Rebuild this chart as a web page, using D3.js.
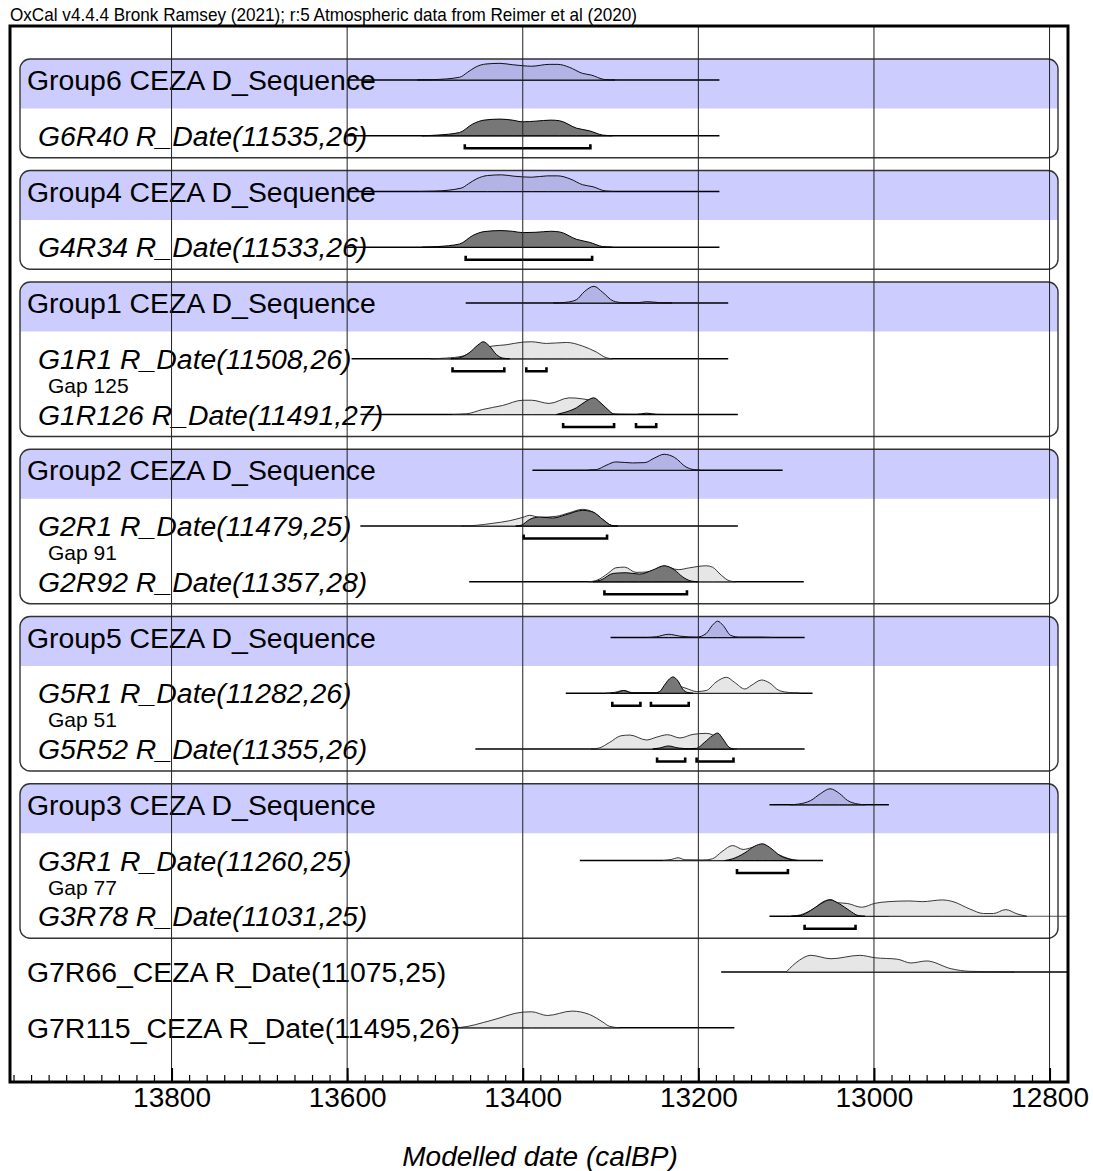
<!DOCTYPE html>
<html>
<head>
<meta charset="utf-8">
<script src="https://cdn.jsdelivr.net/npm/d3@7"></script>
<style>
  body { margin: 0; background: #fff; }
  svg { display: block; }
  text { font-family: "Liberation Sans", Arial, Helvetica, sans-serif; }
</style>
</head>
<body>
<svg id="chart" width="1093" height="1171"></svg>
<script>
// ---- Plot rows (top to bottom) ----
const rowLabels = [
  "Group6 CEZA D_Sequence", "G6R40 R_Date(11535,26)",
  "Group4 CEZA D_Sequence", "G4R34 R_Date(11533,26)",
  "Group1 CEZA D_Sequence", "G1R1 R_Date(11508,26)", "G1R126 R_Date(11491,27)",
  "Group2 CEZA D_Sequence", "G2R1 R_Date(11479,25)", "G2R92 R_Date(11357,28)",
  "Group5 CEZA D_Sequence", "G5R1 R_Date(11282,26)", "G5R52 R_Date(11355,26)",
  "Group3 CEZA D_Sequence", "G3R1 R_Date(11260,25)", "G3R78 R_Date(11031,25)",
  "G7R66_CEZA R_Date(11075,25)", "G7R115_CEZA R_Date(11495,26)"
];
const headerRows = [0, 2, 4, 7, 10, 13];
const groupLastRows = [1, 3, 6, 9, 12, 15];
const plainRows = [16, 17];
const gapLabels = [
  { row: 5, text: "Gap 125" }, { row: 8, text: "Gap 91" },
  { row: 11, text: "Gap 51" }, { row: 14, text: "Gap 77" }
];

// Calculated range of each row (calBP, older first)
const rowRanges = [
  [13600, 13176], [13600, 13176], [13600, 13176], [13600, 13176],
  [13465, 13166], [13595, 13166], [13585, 13155],
  [13389, 13104], [13585, 13155], [13461, 13080],
  [13300, 13079], [13351, 13070], [13454, 13079],
  [13119, 12983], [13335, 13058], [13119, 12983],
  [13174, 12779], [13477, 13159]
];
const extraRanges = [{ row: 15, range: [12983, 12779] }];

// 95.4% highest posterior density ranges
const hpdRanges = {
  1: [[13466, 13323]], 3: [[13465, 13321]],
  5: [[13480, 13421], [13396, 13373]], 6: [[13354, 13296], [13271, 13248]],
  8: [[13399, 13304]], 9: [[13307, 13213]],
  11: [[13298, 13266], [13254, 13211]], 12: [[13247, 13215], [13202, 13160]],
  14: [[13156, 13098]], 15: [[13079, 13021]]
};

// ---- Probability distributions: [calBP, relative probability] ----
const g6Seq = [[13520,0],[13502,0.02],[13472,0.16],[13463,0.45],[13453,0.78],[13442,0.94],[13426,0.98],[13412,0.9],[13400,0.84],[13390,0.81],[13370,0.92],[13360,0.92],[13347,0.75],[13332,0.39],[13322,0.29],[13307,0.03],[13295,0]];
const g6r40Post = [[13515,0],[13497,0.04],[13472,0.19],[13457,0.69],[13444,0.92],[13426,0.98],[13412,0.92],[13400,0.82],[13385,0.86],[13368,0.92],[13358,0.88],[13339,0.45],[13324,0.29],[13309,0.04],[13298,0]];
const g4Seq = [[13518,0],[13500,0.02],[13470,0.2],[13462,0.45],[13452,0.76],[13440,0.94],[13424,0.98],[13410,0.9],[13400,0.86],[13390,0.84],[13372,0.92],[13360,0.92],[13346,0.74],[13332,0.4],[13320,0.28],[13306,0.03],[13295,0]];
const g4r34Post = [[13515,0],[13497,0.04],[13472,0.19],[13457,0.69],[13444,0.92],[13426,0.98],[13412,0.94],[13400,0.86],[13385,0.88],[13368,0.94],[13358,0.9],[13339,0.47],[13324,0.29],[13309,0.04],[13298,0]];

const g1Seq = [[13365,0],[13351,0.04],[13339,0.19],[13330,0.66],[13319,0.98],[13309,0.63],[13297,0.12],[13286,0.02],[13270,0.01],[13259,0.08],[13244,0.02],[13230,0]];
const g1r1Prior = [[13505,0],[13487,0.04],[13468,0.16],[13453,0.51],[13434,0.75],[13419,0.82],[13400,0.98],[13390,1.0],[13373,0.9],[13350,0.96],[13332,0.75],[13316,0.39],[13305,0.06],[13298,0]];
const g1r1Post = [[13482,0],[13472,0.06],[13461,0.35],[13451,0.81],[13445,1.0],[13438,0.75],[13430,0.25],[13423,0.04],[13415,0]];
const g1r126Prior = [[13480,0],[13464,0.04],[13446,0.29],[13423,0.53],[13400,0.84],[13390,0.84],[13370,0.65],[13347,0.98],[13332,0.92],[13316,0.69],[13305,0.29],[13297,0.04],[13290,0]];
const g1r126Post = [[13362,0],[13354,0.1],[13339,0.39],[13328,0.78],[13319,0.98],[13312,0.72],[13303,0.29],[13296,0.02],[13270,0.01],[13259,0.08],[13248,0.01],[13238,0]];

const g2Seq = [[13325,0],[13316,0.04],[13305,0.29],[13294,0.49],[13275,0.43],[13261,0.45],[13250,0.72],[13239,0.94],[13227,0.75],[13214,0.19],[13206,0.04],[13198,0]];
const g2r1Prior = [[13470,0],[13453,0.04],[13434,0.16],[13415,0.31],[13400,0.51],[13392,0.63],[13381,0.51],[13362,0.57],[13347,0.78],[13332,0.98],[13320,0.82],[13309,0.39],[13299,0.04],[13292,0]];
const g2r1Post = [[13408,0],[13402,0.04],[13392,0.39],[13381,0.53],[13366,0.47],[13351,0.66],[13332,0.92],[13320,0.82],[13309,0.39],[13299,0.04],[13292,0]];
const g2r92Prior = [[13325,0],[13315,0.1],[13303,0.49],[13294,0.82],[13284,0.86],[13271,0.55],[13256,0.59],[13239,0.92],[13223,0.71],[13210,0.82],[13191,0.94],[13184,0.86],[13174,0.39],[13165,0.06],[13158,0]];
const g2r92Post = [[13320,0],[13311,0.1],[13297,0.49],[13282,0.53],[13267,0.45],[13252,0.69],[13239,0.94],[13227,0.69],[13218,0.29],[13208,0.04],[13200,0]];

const g5Seq = [[13258,0],[13248,0.04],[13234,0.19],[13221,0.08],[13202,0.02],[13191,0.24],[13184,0.72],[13178,0.96],[13172,0.72],[13163,0.12],[13153,0.02],[13127,0.02],[13115,0]];
const g5r1Prior = [[13305,0],[13297,0.04],[13285,0.16],[13275,0.04],[13248,0.04],[13233,0.24],[13223,0.41],[13214,0.29],[13202,0.1],[13191,0.16],[13180,0.65],[13168,0.94],[13159,0.65],[13147,0.25],[13140,0.45],[13128,0.78],[13119,0.61],[13108,0.16],[13096,0.04],[13085,0]];
const g5r1Post = [[13300,0],[13294,0.02],[13285,0.16],[13276,0.02],[13252,0],[13244,0.1],[13239,0.45],[13233,0.84],[13229,0.96],[13223,0.71],[13218,0.25],[13212,0.04],[13206,0]];
const g5r52Prior = [[13322,0],[13313,0.06],[13301,0.39],[13288,0.78],[13278,0.82],[13259,0.53],[13248,0.69],[13235,0.84],[13221,0.65],[13206,0.86],[13191,0.92],[13184,0.84],[13172,0.39],[13163,0.04],[13156,0]];
const g5r52Post = [[13252,0],[13244,0.06],[13234,0.18],[13223,0.06],[13210,0.02],[13202,0.04],[13193,0.39],[13184,0.78],[13178,0.94],[13172,0.59],[13165,0.1],[13160,0]];

const g3Seq = [[13095,0],[13086,0.04],[13072,0.25],[13061,0.65],[13050,0.94],[13039,0.65],[13030,0.25],[13018,0.04],[13010,0]];
const g3r1Prior = [[13240,0],[13231,0.06],[13223,0.16],[13215,0.04],[13195,0.02],[13184,0.1],[13173,0.53],[13161,0.88],[13149,0.65],[13138,0.78],[13126,0.92],[13115,0.53],[13099,0.14],[13088,0]];
const g3r1Post = [[13170,0],[13161,0.1],[13147,0.45],[13136,0.84],[13127,0.98],[13119,0.78],[13107,0.29],[13093,0.04],[13085,0]];
const g3r78Prior = [[13094,0],[13084,0.08],[13068,0.47],[13057,0.88],[13049,0.98],[13042,0.8],[13030,0.75],[13014,0.53],[12999,0.76],[12983,0.86],[12960,0.9],[12945,0.86],[12922,0.96],[12910,0.86],[12891,0.43],[12875,0.16],[12864,0.16],[12850,0.39],[12837,0.14],[12826,0]];
const g3r78Post = [[13094,0],[13084,0.04],[13072,0.34],[13061,0.72],[13050,0.96],[13039,0.72],[13028,0.34],[13018,0.04],[13010,0]];

const g7r66Prior = [[13100,0],[13085,0.69],[13072,0.98],[13049,0.78],[13016,0.98],[12999,0.84],[12973,0.75],[12958,0.53],[12940,0.65],[12912,0.19],[12891,0.04],[12851,0.01],[12840,0]];
const g7r115Prior = [[13480,0],[13471,0.02],[13436,0.43],[13400,0.92],[13390,0.94],[13372,0.72],[13344,0.98],[13324,0.78],[13309,0.34],[13301,0.08],[13290,0]];

const sequenceCurves = { 0: g6Seq, 2: g4Seq, 4: g1Seq, 7: g2Seq, 10: g5Seq, 13: g3Seq };
const priorCurves = {
  5: g1r1Prior, 6: g1r126Prior, 8: g2r1Prior, 9: g2r92Prior,
  11: g5r1Prior, 12: g5r52Prior, 14: g3r1Prior, 15: g3r78Prior,
  16: g7r66Prior, 17: g7r115Prior
};
const posteriorCurves = {
  1: g6r40Post, 3: g4r34Post, 5: g1r1Post, 6: g1r126Post, 8: g2r1Post, 9: g2r92Post,
  11: g5r1Post, 12: g5r52Post, 14: g3r1Post, 15: g3r78Post
};

// Axis ticks
const majorTicks = [13800, 13600, 13400, 13200, 13000, 12800];
const minorTicks = d3.range(13980, 12779, -20);

const titleText = "OxCal v4.4.4 Bronk Ramsey (2021); r:5 Atmospheric data from Reimer et al (2020)";
const axisTitle = "Modelled date (calBP)";

// ---- Layout ----
const frame = { left: 10, top: 26, right: 1068, bottom: 1082 };
const boxLeft = 20, boxRight = 1058;

const x = d3.scaleLinear().domain([13984, 12779]).range([frame.left, frame.right]);
const y = d3.scalePoint().domain(d3.range(rowLabels.length)).range([80, 1027.75]);
const h = d3.scaleLinear().domain([0, 1]).range([0, 17]);

const svg = d3.select("#chart");

svg.append("defs").append("clipPath").attr("id", "plotClip")
  .append("rect")
  .attr("x", frame.left).attr("y", frame.top)
  .attr("width", frame.right - frame.left).attr("height", frame.bottom - frame.top);

const plot = svg.append("g").attr("clip-path", "url(#plotClip)");

// Group boxes: shaded header band with rounded top corners
const r = 10;
headerRows.forEach((hr) => {
  const top = y(hr) - 21, bandBottom = y(hr) + 28.5;
  plot.append("path")
    .attr("d", `M${boxLeft},${bandBottom} V${top + r} A${r},${r} 0 0 1 ${boxLeft + r},${top} H${boxRight - r} A${r},${r} 0 0 1 ${boxRight},${top + r} V${bandBottom} Z`)
    .attr("fill", "#ccccff");
});

const area = d3.area()
  .x(d => x(d[0]))
  .y0(0)
  .y1(d => -h(d[1]))
  .curve(d3.curveMonotoneX);

// Range lines
rowRanges.forEach((rg, i) => {
  plot.append("line")
    .attr("x1", x(rg[0])).attr("x2", x(rg[1]))
    .attr("y1", y(i)).attr("y2", y(i))
    .attr("stroke", "#000").attr("stroke-width", 1.3);
});
extraRanges.forEach(e => {
  plot.append("line")
    .attr("x1", x(e.range[0])).attr("x2", x(e.range[1]))
    .attr("y1", y(e.row)).attr("y2", y(e.row))
    .attr("stroke", "#555").attr("stroke-width", 1.1);
});

function drawCurve(rowIdx, data, fill, stroke, sw) {
  plot.append("path")
    .datum(data)
    .attr("transform", `translate(0,${y(rowIdx)})`)
    .attr("d", area)
    .attr("fill", fill)
    .attr("stroke", stroke)
    .attr("stroke-width", sw)
    .attr("stroke-linejoin", "round");
}

Object.entries(sequenceCurves).forEach(([i, d]) => drawCurve(+i, d, "#b3b3e6", "#111", 1));
Object.entries(priorCurves).forEach(([i, d]) => drawCurve(+i, d, "#e6e6e6", "#222", 0.9));
Object.entries(posteriorCurves).forEach(([i, d]) => drawCurve(+i, d, "#777777", "#000", 1));

// HPD range brackets
Object.entries(hpdRanges).forEach(([i, list]) => {
  const yy = y(+i) + 12.5;
  list.forEach(rg => {
    plot.append("path")
      .attr("d", `M${x(rg[0])},${yy - 4} V${yy} H${x(rg[1])} V${yy - 4}`)
      .attr("fill", "none").attr("stroke", "#000").attr("stroke-width", 2.6);
  });
});

// Group box outlines
headerRows.forEach((hr, k) => {
  const top = y(hr) - 21, bottom = y(groupLastRows[k]) + 22;
  plot.append("rect")
    .attr("x", boxLeft).attr("y", top)
    .attr("width", boxRight - boxLeft).attr("height", bottom - top)
    .attr("rx", r).attr("ry", r)
    .attr("fill", "none").attr("stroke", "#333").attr("stroke-width", 1.4);
});

// Row labels
const labels = plot.append("g").attr("font-size", 28.4).attr("fill", "#000");
rowLabels.forEach((t, i) => {
  const isHeader = headerRows.includes(i);
  const isPlain = plainRows.includes(i);
  labels.append("text")
    .attr("x", isHeader || isPlain ? 27 : 38)
    .attr("y", y(i) + 10)
    .attr("font-style", isHeader || isPlain ? "normal" : "italic")
    .text(t);
});
gapLabels.forEach(g => {
  labels.append("text")
    .attr("x", 48).attr("y", y(g.row) + 34)
    .attr("font-size", 21)
    .text(g.text);
});

// Vertical grid lines at the major ticks
plot.selectAll(".grid").data(majorTicks).join("line")
  .attr("class", "grid")
  .attr("x1", d => x(d)).attr("x2", d => x(d))
  .attr("y1", frame.top).attr("y2", frame.bottom)
  .attr("stroke", "#222").attr("stroke-width", 1);

// Axis: minor and major ticks pointing inward
const minorAxis = d3.axisBottom(x).tickValues(minorTicks).tickSize(-7).tickFormat("");
const majorAxis = d3.axisBottom(x).tickValues(majorTicks).tickSize(-14).tickPadding(5).tickFormat(d3.format("d"));

const gMinor = svg.append("g").attr("transform", `translate(0,${frame.bottom})`).call(minorAxis);
gMinor.select(".domain").remove();
gMinor.selectAll(".tick line").attr("stroke", "#000").attr("stroke-width", 1.2);

const gMajor = svg.append("g").attr("transform", `translate(0,${frame.bottom})`).call(majorAxis);
gMajor.select(".domain").remove();
gMajor.selectAll(".tick line").attr("stroke", "#000").attr("stroke-width", 2);
gMajor.selectAll(".tick text")
  .attr("font-size", 28)
  .attr("font-family", "'Liberation Sans', Arial, sans-serif")
  .attr("fill", "#000");

// Frame
svg.append("rect")
  .attr("x", frame.left).attr("y", frame.top)
  .attr("width", frame.right - frame.left).attr("height", frame.bottom - frame.top)
  .attr("fill", "none").attr("stroke", "#000").attr("stroke-width", 3);

// Title and axis title
svg.append("text")
  .attr("x", 10).attr("y", 21)
  .attr("font-size", 19)
  .attr("textLength", 627).attr("lengthAdjust", "spacingAndGlyphs")
  .text(titleText);

svg.append("text")
  .attr("x", (frame.left + frame.right) / 2 + 1).attr("y", 1166)
  .attr("text-anchor", "middle")
  .attr("font-size", 28).attr("font-style", "italic")
  .text(axisTitle);
</script>
</body>
</html>
